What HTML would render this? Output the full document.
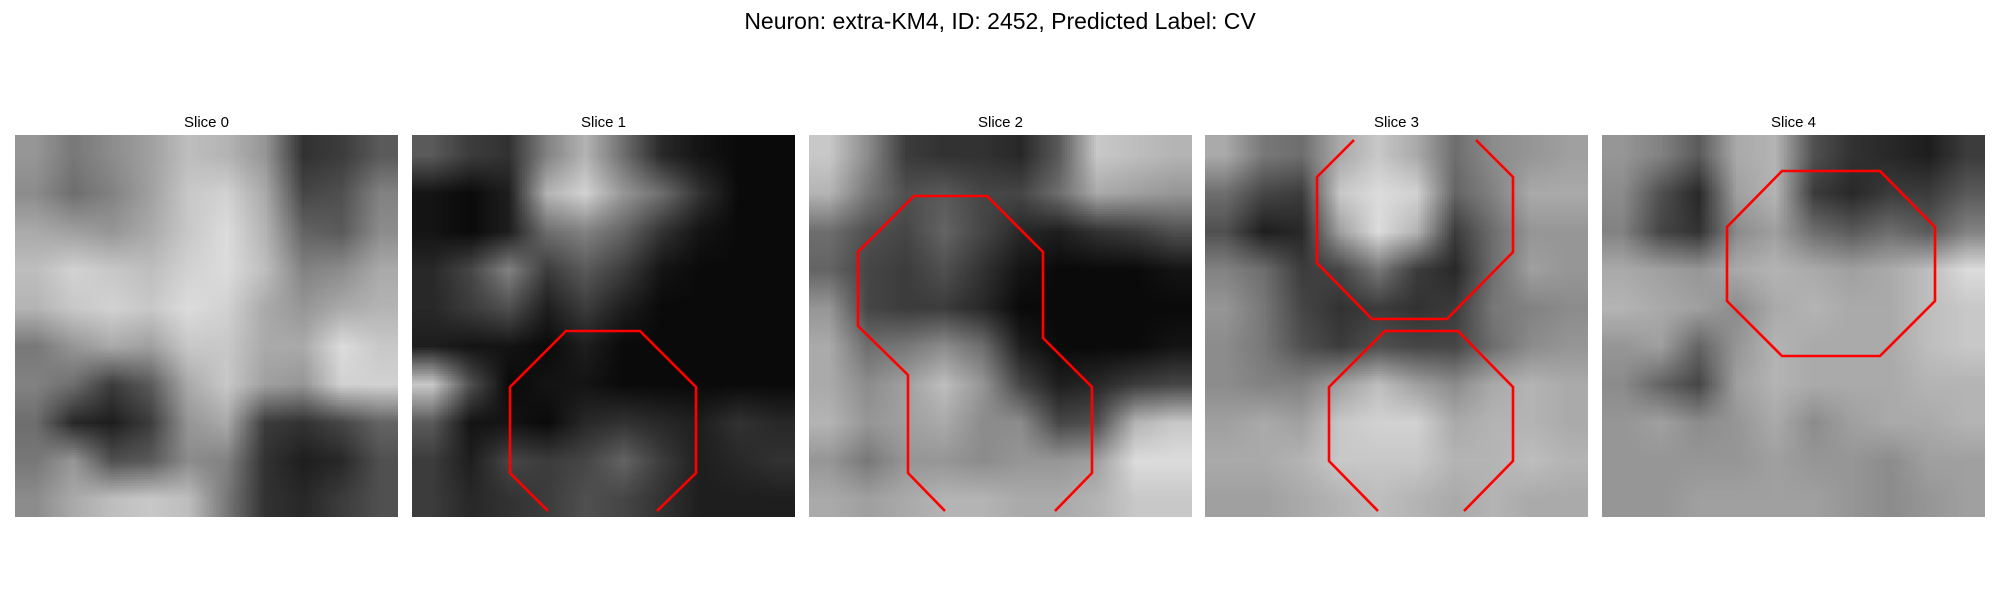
<!DOCTYPE html>
<html><head><meta charset="utf-8"><style>
body{margin:0;width:2000px;height:600px;background:#fff;position:relative;overflow:hidden;font-family:"Liberation Sans",sans-serif}
#title{position:absolute;top:8px;left:0;width:2000px;text-align:center;font-size:23px;color:#000}
.st{position:absolute;top:114px;width:383px;text-align:center;font-size:15px;color:#000}
canvas{position:absolute;top:135px;width:383px;height:382px}
svg{position:absolute;left:0;top:0}
</style></head><body>
<div id="title">Neuron: extra-KM4, ID: 2452, Predicted Label: CV</div>
<div class="st" style="left:15px">Slice 0</div>
<div class="st" style="left:412px">Slice 1</div>
<div class="st" style="left:809px">Slice 2</div>
<div class="st" style="left:1205px">Slice 3</div>
<div class="st" style="left:1602px">Slice 4</div>
<canvas id="c0" width="10" height="10" style="left:15px"></canvas>
<canvas id="c1" width="10" height="10" style="left:412px"></canvas>
<canvas id="c2" width="10" height="10" style="left:809px"></canvas>
<canvas id="c3" width="10" height="10" style="left:1205px"></canvas>
<canvas id="c4" width="10" height="10" style="left:1602px"></canvas>
<svg width="2000" height="600">
<g fill="none" stroke="#f00" stroke-width="2.6" stroke-linejoin="miter">
<polyline points="548,511 510,473 510,387 566,331 640,331 696,387 696,473 657,511"/>
<polyline points="945,511 908,473 908,375 858,326 858,252 914,196 987,196 1043,252 1043,338 1092,387 1092,473 1055,511"/>
<polyline points="1354,140 1317,177 1317,263 1372,319 1447,319 1513,252 1513,177 1476,140"/>
<polyline points="1378,511 1329,461 1329,387 1385,331 1458,331 1513,387 1513,461 1464,511"/>
<polygon points="1782,171 1880,171 1935,227 1935,301 1880,356 1782,356 1727,301 1727,227"/>
</g></svg>
<script>
const slice0=[[150,120,140,160,190,180,150,50,60,90],[140,110,130,160,200,210,170,70,80,130],[170,160,150,170,200,220,180,100,90,140],[190,210,200,190,210,220,190,130,140,170],[180,200,210,200,220,210,170,150,170,180],[120,150,170,160,200,200,170,170,220,200],[130,110,60,90,170,200,160,150,210,210],[110,40,30,60,150,170,60,50,70,100],[120,150,80,90,140,130,50,30,40,80],[140,170,190,200,190,120,50,40,60,80]];
const slice1=[[90,60,50,130,180,110,40,20,10,10],[20,10,30,180,210,150,110,50,10,10],[20,10,30,110,130,100,50,20,10,10],[40,70,130,60,90,60,20,10,10,10],[40,60,80,30,60,30,10,10,10,10],[30,20,20,10,30,10,10,10,10,10],[200,80,10,20,20,10,10,10,10,10],[90,20,20,10,40,50,40,30,50,40],[60,30,70,60,70,100,60,30,40,50],[60,40,50,60,80,70,50,30,30,30]];
const slice2=[[200,140,60,50,50,40,90,200,190,180],[180,120,80,90,70,70,110,170,160,150],[110,80,70,100,70,40,30,50,60,80],[100,70,60,80,50,20,10,10,10,20],[150,70,60,60,40,10,10,10,10,10],[170,110,120,140,110,30,10,10,10,20],[170,140,160,190,150,70,30,40,60,70],[180,150,160,170,140,140,70,80,180,200],[150,120,150,150,140,150,150,160,220,220],[170,160,170,180,180,170,170,180,200,200]];
const slice3=[[170,120,110,170,200,170,110,140,150,160],[110,70,60,200,220,210,100,130,170,170],[80,30,40,160,220,180,60,110,150,150],[130,110,60,70,120,60,40,110,160,150],[150,120,70,50,60,50,60,120,130,140],[140,120,80,60,80,70,70,110,140,150],[140,130,130,160,190,160,140,170,180,170],[160,170,160,200,210,210,170,180,180,170],[170,170,180,200,200,200,180,180,190,180],[160,160,170,180,190,180,170,180,170,170]];
const slice4=[[150,130,90,170,180,80,50,40,30,60],[140,80,40,160,180,60,40,60,60,90],[130,70,50,140,160,110,90,110,90,130],[170,160,150,170,180,170,160,170,190,220],[180,170,160,140,170,180,170,170,190,200],[150,160,100,150,180,170,170,170,190,200],[140,100,70,160,180,170,170,170,180,180],[150,160,140,150,170,140,160,170,170,180],[150,150,150,150,160,150,150,140,160,160],[150,150,160,160,160,160,150,140,150,160]];
[slice0,slice1,slice2,slice3,slice4].forEach((g,i)=>{
  const c=document.getElementById('c'+i),ctx=c.getContext('2d');
  const img=ctx.createImageData(10,10);
  g.forEach((row,r)=>row.forEach((v,k)=>{const p=(r*10+k)*4;img.data[p]=img.data[p+1]=img.data[p+2]=v;img.data[p+3]=255;}));
  ctx.putImageData(img,0,0);
});
</script>
</body></html>
